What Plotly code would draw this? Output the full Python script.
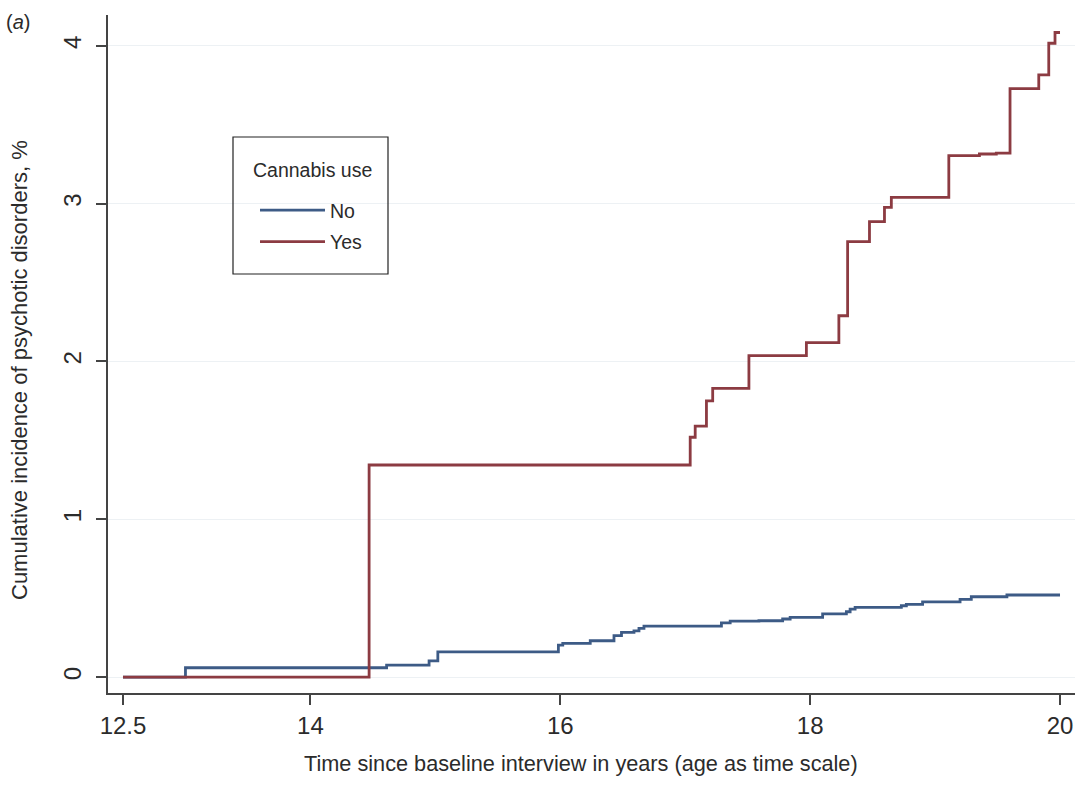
import plotly.graph_objects as go

# ---- data ----
no_time = [12.5, 13.0, 14.61, 14.95, 15.02, 15.985, 16.02, 16.24, 16.43, 16.49, 16.59,
           16.63, 16.67, 17.29, 17.36, 17.59, 17.78, 17.84, 18.10, 18.29, 18.32, 18.36,
           18.73, 18.77, 18.90, 19.20, 19.29, 19.575, 20.0]
no_inc = [0, 0.059, 0.076, 0.103, 0.16, 0.203, 0.213, 0.23, 0.262, 0.283, 0.293,
          0.309, 0.323, 0.344, 0.355, 0.357, 0.368, 0.378, 0.40, 0.414, 0.431, 0.442,
          0.452, 0.461, 0.477, 0.493, 0.509, 0.52, 0.52]

yes_time = [12.5, 14.47, 17.04, 17.08, 17.17, 17.22, 17.51, 17.97, 18.23, 18.30, 18.475,
            18.595, 18.65, 19.11, 19.355, 19.49, 19.60, 19.83, 19.91, 19.96, 20.0]
yes_inc = [0, 1.344, 1.52, 1.59, 1.75, 1.83, 2.037, 2.12, 2.29, 2.76, 2.886,
           2.977, 3.04, 3.305, 3.315, 3.32, 3.73, 3.816, 4.017, 4.085, 4.085]

x_ticks = [12.5, 14, 16, 18, 20]
x_ticklabels = ["12.5", "14", "16", "18", "20"]
y_ticks = [0, 1, 2, 3, 4]

FONT = "Liberation Sans, Arial, sans-serif"
TXT = "#2b2b2b"

fig = go.Figure()
fig.add_trace(go.Scatter(x=no_time, y=no_inc, mode="lines", name="No", legendgroup="no",
                         line=dict(color="#3d5b86", width=2.8, shape="hv")))
fig.add_trace(go.Scatter(x=yes_time, y=yes_inc, mode="lines", name="Yes", legendgroup="yes",
                         line=dict(color="#8c3b42", width=2.8, shape="hv")))

W, H = 1079, 787
L, R, T, B = 108, 4, 15, 94
PW, PH = W - L - R, H - T - B


def px(xf):
    return (xf - L) / PW


def py(yf):
    return 1 - (yf - T) / PH


fig.update_layout(
    width=W, height=H,
    margin=dict(l=L, r=R, t=T, b=B, autoexpand=False),
    paper_bgcolor="white", plot_bgcolor="white",
    font=dict(family=FONT, color=TXT),
    showlegend=True,
    legend=dict(
        x=px(255), y=py(191), xanchor="left", yanchor="top",
        bgcolor="rgba(0,0,0,0)", borderwidth=0,
        font=dict(size=19.5, family=FONT, color=TXT),
        itemwidth=65, tracegroupgap=3,
    ),
    shapes=[dict(type="rect", xref="paper", yref="paper",
                 x0=px(233), x1=px(388), y0=py(274), y1=py(137),
                 line=dict(color="#222", width=1.2), fillcolor="rgba(0,0,0,0)")],
    annotations=[
        dict(text="(<i>a</i>)", xref="paper", yref="paper",
             x=px(4), y=py(9), xanchor="left", yanchor="top",
             showarrow=False, font=dict(size=20, family=FONT, color=TXT)),
        dict(text="Cannabis use", xref="paper", yref="paper",
             x=px(312), y=py(170), xanchor="center", yanchor="middle",
             showarrow=False, font=dict(size=19.5, family=FONT, color=TXT)),
        dict(text="Time since baseline interview in years (age as time scale)",
             xref="paper", yref="paper", x=px(581), y=py(763),
             xanchor="center", yanchor="middle", showarrow=False,
             font=dict(size=21.7, family=FONT, color=TXT)),
        dict(text="Cumulative incidence of psychotic disorders, %",
             xref="paper", yref="paper", x=px(19), y=py(370), textangle=-90,
             xanchor="center", yanchor="middle", showarrow=False,
             font=dict(size=22, family=FONT, color=TXT)),
    ],
)

fig.update_xaxes(
    range=[12.38, 20.12], tickvals=x_ticks, ticktext=x_ticklabels,
    showgrid=False, zeroline=False, automargin=False,
    showline=True, linecolor="#444", linewidth=1.5,
    ticks="outside", ticklen=10, tickwidth=1.5, tickcolor="#444",
    tickfont=dict(size=24, family=FONT, color=TXT),
)
fig.update_yaxes(
    range=[-0.101, 4.196], tickvals=y_ticks,
    showgrid=True, gridcolor="#edf1f4", gridwidth=1, zeroline=False, automargin=False,
    showline=True, linecolor="#444", linewidth=1.5,
    ticks="outside", ticklen=10, tickwidth=1.5, tickcolor="#444",
    tickangle=-90, ticklabelstandoff=6,
    tickfont=dict(size=24, family=FONT, color=TXT),
)

fig.write_html(
    "out.html",
    config={"displayModeBar": False},
    post_script="document.body.style.margin='0';document.documentElement.style.overflow='hidden';",
)
